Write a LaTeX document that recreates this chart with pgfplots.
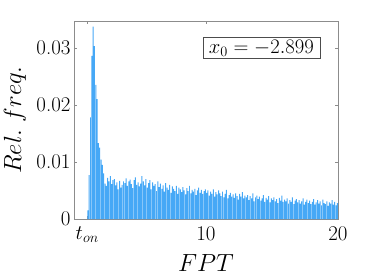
\documentclass[border=0pt]{standalone}
\usepackage{pgfplots}
\pgfplotsset{compat=1.18}
\usepackage{pgfplotstable}
\definecolor{barc}{RGB}{70,168,246}
\definecolor{axc}{RGB}{140,140,140}
\pgfplotstableread{
y
0.0015
0.0077
0.0178
0.0286
0.0337
0.0303
0.0235
0.0210
0.0133
0.0125
0.0104
0.0095
0.0080
0.0062
0.0058
0.0072
0.0066
0.0075
0.0061
0.0068
0.0070
0.0059
0.0064
0.0052
0.0067
0.0055
0.0060
0.0066
0.0063
0.0071
0.0058
0.0066
0.0069
0.0061
0.0054
0.0068
0.0073
0.0060
0.0064
0.0057
0.0062
0.0075
0.0066
0.0059
0.0070
0.0055
0.0063
0.0068
0.0052
0.0064
0.0058
0.0061
0.0049
0.0066
0.0056
0.0062
0.0053
0.0059
0.0048
0.0063
0.0055
0.0051
0.0060
0.0046
0.0057
0.0053
0.0049
0.0058
0.0044
0.0055
0.0052
0.0047
0.0056
0.0050
0.0043
0.0054
0.0049
0.0058
0.0045
0.0051
0.0048
0.0053
0.0042
0.0050
0.0055
0.0046
0.0051
0.0044
0.0049
0.0052
0.0046
0.0050
0.0041
0.0048
0.0044
0.0052
0.0039
0.0047
0.0043
0.0050
0.0045
0.0040
0.0048
0.0038
0.0044
0.0051
0.0036
0.0042
0.0046
0.0039
0.0043
0.0037
0.0045
0.0040
0.0034
0.0044
0.0039
0.0047
0.0036
0.0041
0.0038
0.0042
0.0033
0.0040
0.0036
0.0045
0.0031
0.0038
0.0041
0.0035
0.0039
0.0032
0.0036
0.0042
0.0030
0.0037
0.0034
0.0040
0.0029
0.0036
0.0033
0.0038
0.0031
0.0035
0.0028
0.0037
0.0032
0.0041
0.0030
0.0034
0.0031
0.0036
0.0027
0.0033
0.0030
0.0038
0.0026
0.0032
0.0035
0.0029
0.0033
0.0027
0.0031
0.0036
0.0025
0.0030
0.0034
0.0028
0.0032
0.0026
0.0030
0.0035
0.0025
0.0029
0.0033
0.0027
0.0031
0.0024
0.0034
0.0028
0.0026
0.0031
0.0023
0.0029
0.0027
0.0033
0.0025
0.0030
0.0024
0.0028
}\hist
\begin{document}
\begin{tikzpicture}
\path[use as bounding box] (-74bp,-61bp) rectangle (300bp,219bp);
\begin{axis}[
  at={(0,0)}, anchor=south west,
  width=264bp, height=198bp, scale only axis,
  xmin=0, xmax=20, ymin=0, ymax=0.0347,
  scaled y ticks=false,
  xtick={1,10,20}, xticklabels={$t_{on}$,10,20},
  ytick={0,0.01,0.02,0.03}, yticklabels={0,0.01,0.02,0.03},
  tick align=inside, major tick length=3bp,
  axis line style={axc}, tick style={axc},
  tick label style={font=\fontsize{21}{24}\selectfont},
  xticklabel style={yshift=-4bp},
  xlabel={$FPT$}, ylabel={$Rel.\ freq.$},
  label style={font=\fontsize{24}{28}\selectfont},
  xlabel style={at={(axis description cs:0.5,-0.222)}, anchor=center},
  ylabel style={at={(axis description cs:-0.2235,0.5)}, anchor=center},
]
\addplot[ybar, bar width=0.075, bar shift=0pt, fill=barc, draw=none]
  table[x expr=1.05+0.1*\coordindex, y index=0] {\hist};
\node[draw=black!70, fill=white, anchor=north east, inner xsep=6bp, inner ysep=2.5bp,
  font=\fontsize{22}{25}\selectfont]
  at (rel axis cs:1,1) [xshift=-18bp, yshift=-16bp] {$x_0 = -2.899$};
\end{axis}
\end{tikzpicture}
\end{document}
